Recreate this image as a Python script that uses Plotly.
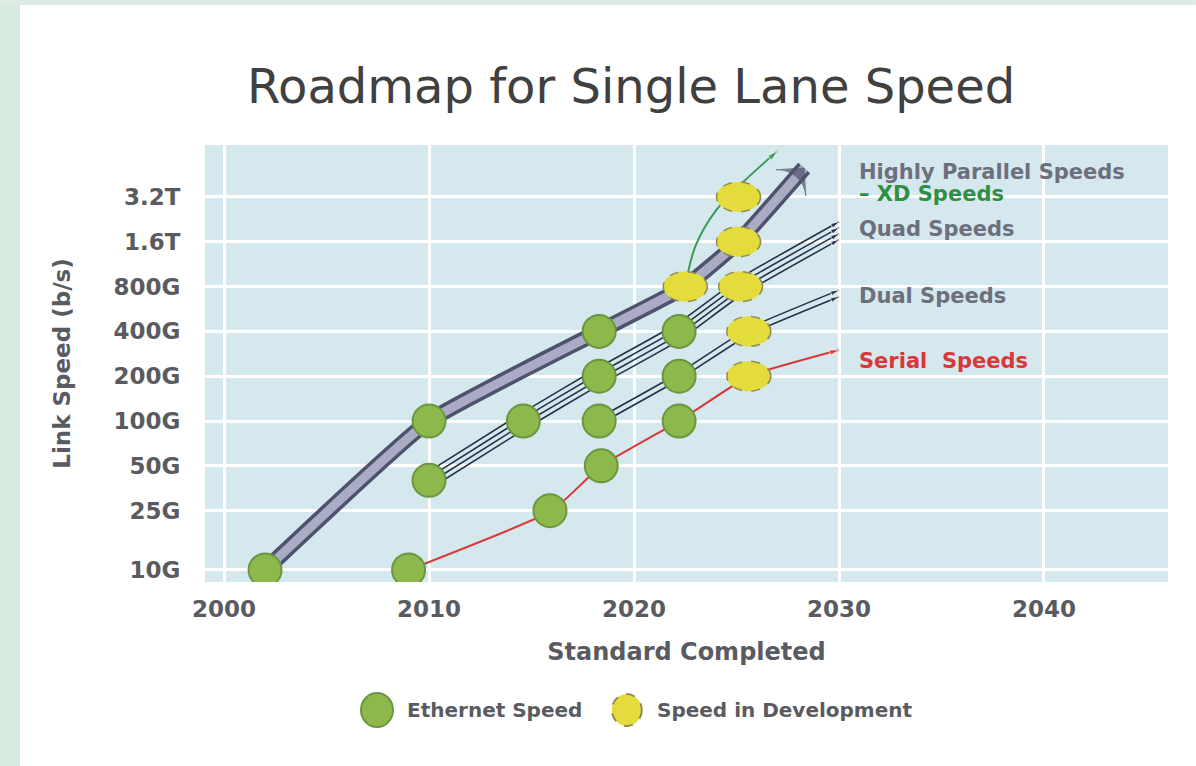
import plotly.graph_objects as go

# точки стандартов (год, скорость в Гб/с)
eth_years = [2002, 2009, 2010, 2010, 2014.6, 2015.9, 2018.3, 2018.3, 2018.3, 2018.4, 2022.2, 2022.2, 2022.2]
eth_speeds = [10, 10, 100, 40, 100, 25, 400, 200, 100, 50, 400, 200, 100]
dev_years = [2022.5, 2025.2, 2025.1, 2025.1, 2025.6, 2025.6]
dev_speeds = [800, 800, 1600, 3200, 400, 200]

# траектории
parallel_years = [2002, 2010, 2018.3, 2022.5, 2025.1, 2028.3]
parallel_speeds = [10, 100, 400, 800, 1600, 5000]
xd_years = [2022.5, 2023.0, 2024.0, 2025.3, 2027.0]
xd_speeds = [800, 1500, 2600, 4000, 6500]
quad_years = [2010, 2014.6, 2018.3, 2022.2, 2025.2, 2030]
quad_speeds = [40, 100, 200, 400, 800, 1900]
dual_years = [2018.3, 2022.2, 2025.6, 2030]
dual_speeds = [100, 200, 400, 720]
serial_years = [2009, 2016, 2018.4, 2022.2, 2025.6, 2030]
serial_speeds = [10, 25, 50, 100, 200, 300]

# оси
year_ticks = [2000, 2010, 2020, 2030, 2040]
speed_ticks = [10, 25, 50, 100, 200, 400, 800, 1600, 3200]
speed_labels = ['10G', '25G', '50G', '100G', '200G', '400G', '800G', '1.6T', '3.2T']

GRAY = '#5a5b60'
FONT = 'DejaVu Sans'
SMOOTH = 0.4

fig = go.Figure()


def arrow_sizes(n, s):
    return [0] * (n - 1) + [s]


def ellipse_path(rx, ry):
    # эллипс из четырёх кривых Безье (в пикселях относительно якоря)
    k = 0.5523
    return (f'M{rx},0 C{rx},{k*ry} {k*rx},{ry} 0,{ry} C{-k*rx},{ry} {-rx},{k*ry} {-rx},0 '
            f'C{-rx},{-k*ry} {-k*rx},{-ry} 0,{-ry} C{k*rx},{-ry} {rx},{-k*ry} {rx},0 Z')


# толстая стрелка "Highly Parallel"
fig.add_trace(go.Scatter(x=parallel_years, y=parallel_speeds, mode='lines',
                         line=dict(color='#4f526d', width=16, shape='spline', smoothing=SMOOTH),
                         hoverinfo='skip'))
fig.add_trace(go.Scatter(x=parallel_years, y=parallel_speeds, mode='lines+markers',
                         line=dict(color='#aaacc5', width=9, shape='spline', smoothing=SMOOTH),
                         marker=dict(symbol='arrow-wide', angleref='previous', color='#4f526d',
                                     line=dict(color='#4f526d', width=1),
                                     size=arrow_sizes(len(parallel_years), 28)),
                         hoverinfo='skip'))

# пучок из 4 линий (Quad)
for off in [-0.06, -0.02, 0.02, 0.06]:
    fig.add_trace(go.Scatter(x=quad_years, y=[v * 10 ** off for v in quad_speeds],
                             mode='lines+markers',
                             line=dict(color='#26304a', width=1.6, shape='spline', smoothing=SMOOTH),
                             marker=dict(symbol='arrow', angleref='previous', color='#26304a',
                                         size=arrow_sizes(len(quad_years), 9)),
                             hoverinfo='skip'))

# Dual
for off in [-0.022, 0.022]:
    fig.add_trace(go.Scatter(x=dual_years, y=[v * 10 ** off for v in dual_speeds],
                             mode='lines+markers',
                             line=dict(color='#26304a', width=1.6, shape='spline', smoothing=SMOOTH),
                             marker=dict(symbol='arrow', angleref='previous', color='#26304a',
                                         size=arrow_sizes(len(dual_years), 9)),
                             hoverinfo='skip'))

# Serial
fig.add_trace(go.Scatter(x=serial_years, y=serial_speeds, mode='lines+markers',
                         line=dict(color='#d9373a', width=2, shape='spline', smoothing=SMOOTH),
                         marker=dict(symbol='arrow', angleref='previous', color='#d9373a',
                                     size=arrow_sizes(len(serial_years), 10)),
                         hoverinfo='skip'))

# XD
fig.add_trace(go.Scatter(x=xd_years, y=xd_speeds, mode='lines+markers',
                         line=dict(color='#3c9a58', width=2, shape='spline', smoothing=1),
                         marker=dict(symbol='arrow', angleref='previous', color='#3c9a58',
                                     size=arrow_sizes(len(xd_years), 11)),
                         hoverinfo='skip'))

# Ethernet Speed
fig.add_trace(go.Scatter(x=eth_years, y=eth_speeds, mode='markers', name='Ethernet Speed',
                         marker=dict(size=33, color='#8db84b', line=dict(color='#6b9640', width=2))))

# Speed in Development - эллипсы с пунктиром
shapes = []
for yr, sp in zip(dev_years, dev_speeds):
    shapes.append(dict(type='path', xref='x', yref='y', xsizemode='pixel', ysizemode='pixel',
                       xanchor=yr, yanchor=sp, path=ellipse_path(22, 15),
                       fillcolor='#e3dc3c', line=dict(color='#8f8d55', width=1.5, dash='dash'),
                       layer='above'))

# легенда вручную
shapes.append(dict(type='circle', xref='paper', yref='paper', xsizemode='pixel', ysizemode='pixel',
                   xanchor=0.1786, yanchor=-0.293, x0=-16, x1=16, y0=-17, y1=17,
                   fillcolor='#8db84b', line=dict(color='#6b9640', width=2)))
shapes.append(dict(type='circle', xref='paper', yref='paper', xsizemode='pixel', ysizemode='pixel',
                   xanchor=0.438, yanchor=-0.293, x0=-15, x1=15, y0=-16, y1=16,
                   fillcolor='#e3dc3c', line=dict(color='#8f8d55', width=2, dash='dash')))

# светлая рамка слайда
shapes.append(dict(type='rect', xref='paper', yref='paper', x0=-0.2129, x1=-0.1921, y0=-0.421, y1=1.332,
                   fillcolor='#d9ebe1', line=dict(width=0), layer='below'))
shapes.append(dict(type='rect', xref='paper', yref='paper', x0=-0.2129, x1=1.029, y0=1.3204, y1=1.332,
                   fillcolor='#dcebe3', line=dict(width=0), layer='below'))

annotations = [
    dict(text='Highly Parallel Speeds', x=2030.9, y=0.938, font=dict(color='#6d6f7d')),
    dict(text='– XD Speeds', x=2030.9, y=0.888, font=dict(color='#2f8f45')),
    dict(text='Quad Speeds', x=2030.9, y=0.808, font=dict(color='#6d6f7d')),
    dict(text='Dual Speeds', x=2030.9, y=0.654, font=dict(color='#6d6f7d')),
    dict(text='Serial  Speeds', x=2030.9, y=0.506, font=dict(color='#d9373a')),
]
for a in annotations:
    a.update(xref='x', yref='paper', xanchor='left', yanchor='middle', showarrow=False)
    a['font'].update(family=FONT, size=21, weight='bold')

annotations.append(dict(text='Ethernet Speed', xref='paper', yref='paper', x=0.2077, y=-0.293,
                        xanchor='left', yanchor='middle', showarrow=False,
                        font=dict(family=FONT, size=20, weight='bold', color=GRAY)))
annotations.append(dict(text='Speed in Development', xref='paper', yref='paper', x=0.467, y=-0.293,
                        xanchor='left', yanchor='middle', showarrow=False,
                        font=dict(family=FONT, size=20, weight='bold', color=GRAY)))

fig.update_layout(
    width=1196, height=766,
    margin=dict(l=205, r=28, t=145, b=184),
    paper_bgcolor='white', plot_bgcolor='#d4e8ee',
    showlegend=False,
    title=dict(text='Roadmap for Single Lane Speed', x=0.5276, xanchor='center', y=0.887, yanchor='middle',
               font=dict(family='DejaVu Sans', size=48, color='#404040')),
    shapes=shapes, annotations=annotations,
)
fig.update_xaxes(range=[1999.07, 2046.05], tickvals=year_ticks, showgrid=True, gridcolor='white', gridwidth=3,
                 zeroline=False, ticks='outside', ticklen=6, tickcolor='rgba(0,0,0,0)',
                 tickfont=dict(family=FONT, size=23, weight='bold', color=GRAY),
                 title=dict(text='Standard Completed', standoff=22,
                            font=dict(family=FONT, size=24, weight='bold', color=GRAY)))
fig.update_yaxes(type='log', range=[0.919, 3.854], tickvals=speed_ticks, ticktext=speed_labels,
                 showgrid=True, gridcolor='white', gridwidth=3, zeroline=False,
                 ticks='outside', ticklen=19, tickcolor='rgba(0,0,0,0)',
                 tickfont=dict(family=FONT, size=23, weight='bold', color=GRAY),
                 title=dict(text='Link Speed (b/s)', standoff=36,
                            font=dict(family=FONT, size=23, weight='bold', color=GRAY)))

# убираем стандартный отступ body, чтобы график стоял в углу окна
fig.write_html('out.html', config={'displayModeBar': False},
               post_script="document.body.style.margin='0';")
